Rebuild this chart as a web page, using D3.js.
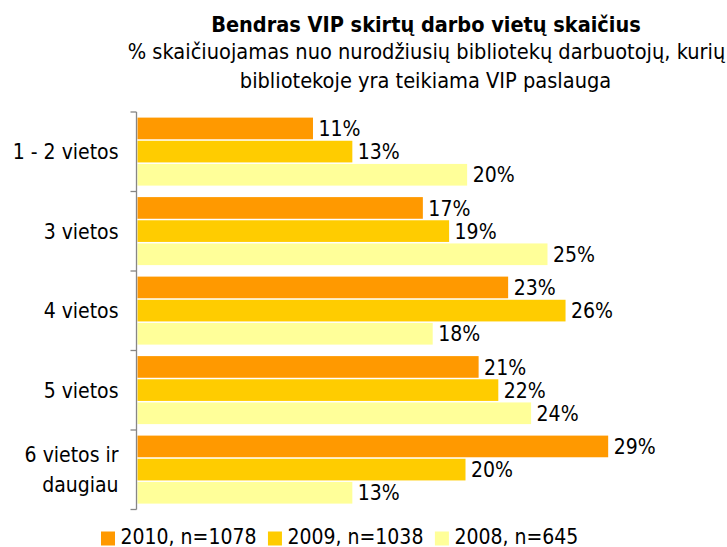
<!DOCTYPE html>
<html>
<head>
<meta charset="utf-8">
<script src="https://cdn.jsdelivr.net/npm/d3@7"></script>
<style>
  html, body { margin: 0; padding: 0; background: #fff; }
  svg { display: block; }
  text { font-family: "DejaVu Sans Condensed", "DejaVu Sans", sans-serif; fill: #000; }
</style>
</head>
<body>
<svg id="chart" width="727" height="547"></svg>
<script>
// ---- data ----
const titleText = "Bendras VIP skirtų darbo vietų skaičius";
const subtitleLines = [
  "% skaičiuojamas nuo nurodžiusių bibliotekų darbuotojų, kurių",
  "bibliotekoje yra teikiama VIP paslauga"
];
const categories = ["1 - 2 vietos", "3 vietos", "4 vietos", "5 vietos", "6 vietos ir daugiau"];
const categoryLines = [["1 - 2 vietos"], ["3 vietos"], ["4 vietos"], ["5 vietos"], ["6 vietos ir", "daugiau"]];
const seriesNames = ["2010, n=1078", "2009, n=1038", "2008, n=645"];
const values2010 = [10.7, 17.4, 22.6, 20.8, 28.7];
const values2009 = [13.1, 19.0, 26.1, 22.0, 20.0];
const values2008 = [20.1, 25.0, 18.0, 24.0, 13.1];
const seriesColors = ["#FF9900", "#FFCC00", "#FFFF99"];

const seriesValues = [values2010, values2009, values2008];
const rows = categories.map((c, i) => ({
  cat: c,
  vals: seriesNames.map((s, j) => ({ series: s, idx: j, value: seriesValues[j][i] }))
}));

// ---- layout ----
const svg = d3.select("#chart");
const plotLeft = 137, plotTop = 112, plotBottom = 509.5;
const fs = 21;

const x = d3.scaleLinear().domain([0, 35]).range([plotLeft, plotLeft + 35 * 16.4]);
const y = d3.scaleBand().domain(categories).range([plotTop, plotBottom]).padding(0);
const yInner = d3.scaleBand().domain(seriesNames).range([5, y.bandwidth() - 5]).padding(0);

// title
const cx = 426;
svg.append("text").attr("x", cx).attr("y", 31.5).attr("text-anchor", "middle")
  .style("font-size", "21.5px").style("font-weight", "bold").text(titleText);
svg.selectAll("text.sub").data(subtitleLines).enter().append("text")
  .attr("class", "sub").attr("x", (d, i) => i === 0 ? cx + 0.5 : cx - 0.5).attr("y", (d, i) => 58.5 + i * 29.5)
  .attr("text-anchor", "middle").style("font-size", "21.6px").text(d => d);

// bars
const groups = svg.selectAll("g.cat").data(rows).enter().append("g")
  .attr("class", "cat").attr("transform", d => `translate(0,${y(d.cat)})`);

groups.selectAll("rect").data(d => d.vals).enter().append("rect")
  .attr("x", x(0) + 0.5)
  .attr("y", d => yInner(d.series) + 0.6)
  .attr("width", d => x(d.value) - x(0))
  .attr("height", yInner.bandwidth() - 1.5)
  .attr("fill", d => seriesColors[d.idx]);

groups.selectAll("text.val").data(d => d.vals).enter().append("text")
  .attr("class", "val")
  .attr("x", d => x(d.value) + 6)
  .attr("y", d => yInner(d.series) + yInner.bandwidth() / 2 + 7.5)
  .style("font-size", fs + "px")
  .text(d => Math.round(d.value) + "%");

// axis
const axisG = svg.append("g").attr("transform", `translate(${plotLeft - 0.5},0)`);
axisG.append("line").attr("x1", 0).attr("x2", 0).attr("y1", plotTop).attr("y2", plotBottom)
  .attr("stroke", "#868686").attr("stroke-width", 1.3);
const boundaries = categories.map(c => y(c)).concat([plotBottom]);
axisG.selectAll("line.tick").data(boundaries).enter().append("line")
  .attr("class", "tick").attr("x1", -6).attr("x2", 0)
  .attr("y1", d => d).attr("y2", d => d)
  .attr("stroke", "#868686").attr("stroke-width", 1.3);

// category labels
categories.forEach((c, i) => {
  const lines = categoryLines[i];
  const center = y(c) + y.bandwidth() / 2 + 7.5;
  lines.forEach((ln, k) => {
    svg.append("text").attr("x", 118.5).attr("text-anchor", "end")
      .attr("y", center + (k - (lines.length - 1) / 2) * 30)
      .style("font-size", fs + "px").text(ln);
  });
});

// legend
let lx = 101;
const legG = svg.append("g");
seriesNames.forEach((s, i) => {
  legG.append("rect").attr("x", lx).attr("y", 531.5).attr("width", 14).attr("height", 14)
    .attr("fill", seriesColors[i]);
  const t = legG.append("text").attr("x", lx + 19.5).attr("y", 543.5)
    .style("font-size", fs + "px").text(s);
  const w = t.node().getComputedTextLength();
  lx = lx + 19.5 + w + 11.5;
});
</script>
</body>
</html>
